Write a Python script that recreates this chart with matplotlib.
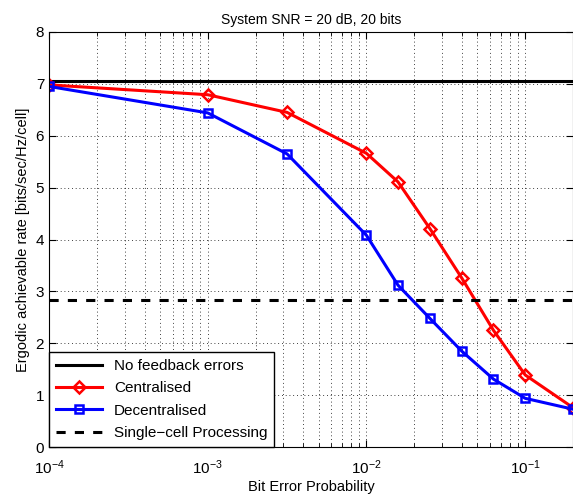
import matplotlib.pyplot as plt
from matplotlib.ticker import LogLocator, NullFormatter

plt.rcParams['font.family'] = ['Liberation Sans', 'DejaVu Sans']

ber = [1e-4, 1e-3, 3.16e-3, 1e-2, 1.58e-2, 2.51e-2, 3.98e-2, 6.31e-2, 1e-1, 2e-1]
centralised = [6.98, 6.79, 6.45, 5.66, 5.11, 4.21, 3.26, 2.25, 1.39, 0.76]
decentralised = [6.95, 6.44, 5.65, 4.08, 3.12, 2.48, 1.85, 1.31, 0.94, 0.73]
no_feedback_err = 7.06
single_cell = 2.83

fig = plt.figure(figsize=(5.73, 4.99), dpi=100)
ax = fig.add_axes([0.0855, 0.104, 0.9145, 0.832])

ax.axhline(no_feedback_err, color='black', lw=2.2, label='No feedback errors')
ax.plot(ber, centralised, color='red', lw=2.2, marker='D', ms=6.5,
        mfc='none', mew=1.8, label='Centralised')
ax.plot(ber, decentralised, color='blue', lw=2.2, marker='s', ms=6,
        mfc='none', mew=1.8, label='Decentralised')
ax.axhline(single_cell, color='black', lw=2.2, ls=(0, (3, 3)),
           label='Single\u2212cell Processing')

ax.set_xscale('log')
ax.set_xlim(1e-4, 2e-1)
ax.set_ylim(0, 8)
ax.set_yticks(range(0, 9))
ax.xaxis.set_minor_locator(LogLocator(base=10, subs=range(2, 10)))
ax.xaxis.set_minor_formatter(NullFormatter())

ax.grid(True, which='major', ls=(0, (1, 3.5)), color='black', lw=0.6)
ax.grid(True, which='minor', axis='x', ls=(0, (1, 3.5)), color='black', lw=0.6)
ax.tick_params(which='both', direction='in', top=True, right=True, labelsize=11)
ax.tick_params(which='major', length=5)
ax.tick_params(which='minor', length=3)
ax.tick_params(axis='x', which='major', pad=8)

ax.set_title('System SNR = 20 dB, 20 bits', fontsize=10)
ax.set_xlabel('Bit Error Probability', fontsize=10.5, labelpad=2)
ax.set_ylabel('Ergodic achievable rate [bits/sec/Hz/cell]', fontsize=10.5)

leg = ax.legend(loc='lower left', fontsize=11, fancybox=False, framealpha=1,
                edgecolor='black', handlelength=3, borderaxespad=0,
                borderpad=0.45, labelspacing=0.55)
leg.get_frame().set_linewidth(1)

fig.savefig('out.png', dpi=100)
